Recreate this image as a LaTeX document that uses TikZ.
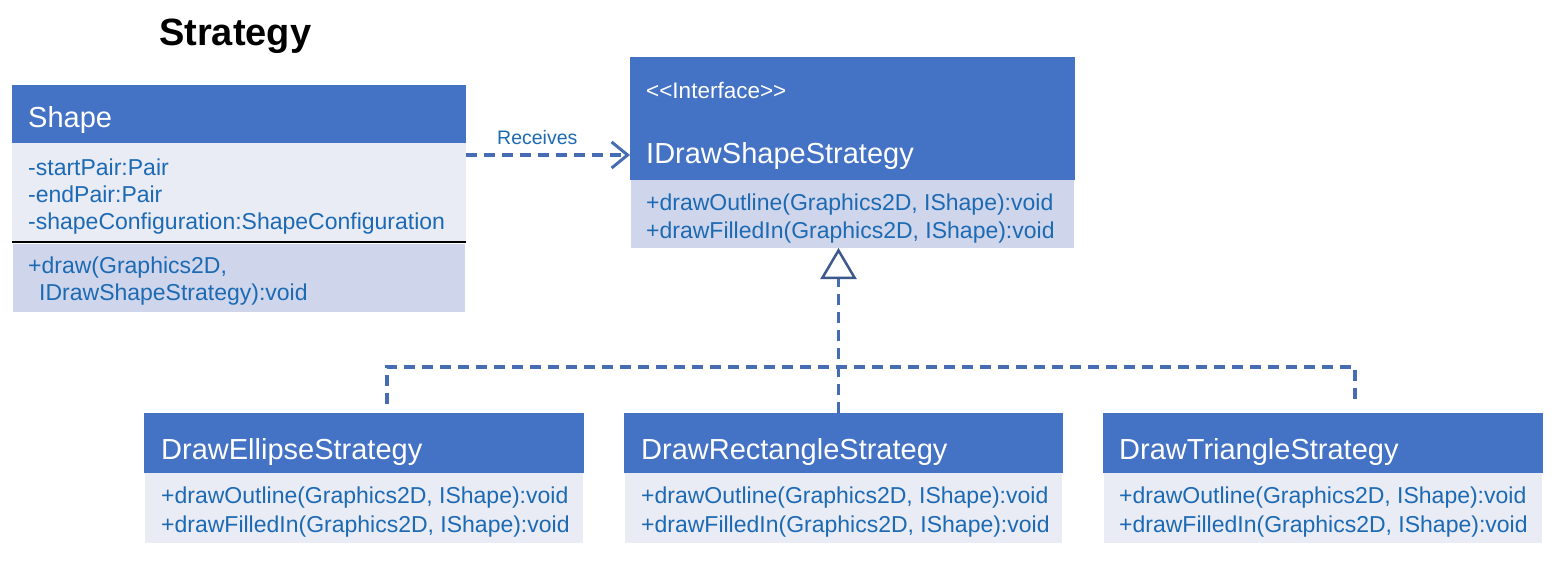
\documentclass[tikz,border=0pt]{standalone}
\usepackage{fontspec}
\setmainfont{Liberation Sans}
\usetikzlibrary{arrows.meta}
\definecolor{hdr}{RGB}{68,114,196}
\definecolor{lite}{RGB}{233,235,245}
\definecolor{mid}{RGB}{207,213,234}
\definecolor{txt}{RGB}{28,106,180}
\definecolor{ln}{RGB}{70,108,180}
\definecolor{tric}{RGB}{60,88,140}
\begin{document}
\begin{tikzpicture}[x=1pt,y=-1pt,
  box/.style={anchor=north west, inner sep=0pt, outer sep=0pt, draw=none},
  hbox/.style={box, fill=hdr},
  lbox/.style={box, fill=lite},
  mbox/.style={box, fill=mid},
  hname/.style={anchor=base west, inner sep=0pt, text=white, font=\fontsize{29}{34}\selectfont},
  stereo/.style={anchor=base west, inner sep=0pt, text=white, font=\fontsize{22.5}{26}\selectfont},
  body/.style={anchor=base west, inner sep=0pt, text=txt, font=\fontsize{23}{27}\selectfont},
  lbl/.style={anchor=base west, inner sep=0pt, text=txt, font=\fontsize{19.5}{24}\selectfont},
  dep/.style={draw=ln, line width=3.5pt, dash pattern=on 11pt off 7pt},
]
\useasboundingbox[fill=white] (0,0) rectangle (1556,570);

% title
\node[anchor=base west, inner sep=0pt, font=\fontsize{38}{44}\selectfont\bfseries] (title) at (159,45) {Strategy};

% Shape class
\node[hbox, minimum width=454pt, minimum height=58pt] (shapeH) at (12,85) {};
\node[lbox, minimum width=454pt, minimum height=99pt] (shapeA) at (12,143) {};
\node[mbox, minimum width=452pt, minimum height=68pt] (shapeM) at (13,244) {};
\draw[black, line width=2pt] (shapeA.south west) -- (shapeA.south east);
\node[hname] (shapeN) at (28,127) {Shape};
\node[body] (sa1) at (28,175) {-startPair:Pair};
\node[body] (sa2) at (28,202) {-endPair:Pair};
\node[body] (sa3) at (28,229) {-shapeConfiguration:ShapeConfiguration};
\node[body] (sm1) at (28,273) {+draw(Graphics2D,};
\node[body] (sm2) at (39,300) {IDrawShapeStrategy):void};

% Interface
\node[hbox, minimum width=445pt, minimum height=123pt] (ifaceH) at (630,57) {};
\node[mbox, minimum width=443pt, minimum height=68pt] (ifaceM) at (631,180) {};
\node[stereo] (ifS) at (646,98) {<{}<Interface>{}>};
\node[hname] (ifN) at (646,163) {IDrawShapeStrategy};
\node[body] (if1) at (646,210) {+drawOutline(Graphics2D, IShape):void};
\node[body] (if2) at (646,238) {+drawFilledIn(Graphics2D, IShape):void};

% Ellipse
\node[hbox, minimum width=440pt, minimum height=60pt] (ellH) at (144,413) {};
\node[lbox, minimum width=438pt, minimum height=70pt] (ellM) at (145,473) {};
\node[hname] (ellN) at (161,459) {DrawEllipseStrategy};
\node[body] (el1) at (161,503) {+drawOutline(Graphics2D, IShape):void};
\node[body] (el2) at (161,532) {+drawFilledIn(Graphics2D, IShape):void};

% Rectangle
\node[hbox, minimum width=439pt, minimum height=60pt] (rectH) at (624,413) {};
\node[lbox, minimum width=437pt, minimum height=70pt] (rectM) at (625,473) {};
\node[hname] (rectN) at (641,459) {DrawRectangleStrategy};
\node[body] (re1) at (641,503) {+drawOutline(Graphics2D, IShape):void};
\node[body] (re2) at (641,532) {+drawFilledIn(Graphics2D, IShape):void};

% Triangle
\node[hbox, minimum width=440pt, minimum height=60pt] (triH) at (1103,413) {};
\node[lbox, minimum width=438pt, minimum height=70pt] (triM) at (1104,473) {};
\node[hname] (triN) at (1119,459) {DrawTriangleStrategy};
\node[body] (tr1) at (1119,503) {+drawOutline(Graphics2D, IShape):void};
\node[body] (tr2) at (1119,532) {+drawFilledIn(Graphics2D, IShape):void};

% Receives dependency
\coordinate (rcv) at ([yshift=-12pt]shapeH.south east);
\draw[dep, -{Straight Barb[length=16pt, width=26pt, line width=3pt]}] (rcv) -- (rcv -| ifaceH.west);
\node[lbl] (rlab) at (497,144) {Receives};

% realization
\coordinate (mid) at ([xshift=-5pt]rectH.north);
\draw[dep, -{Triangle[open, length=31pt, width=36pt, line width=2.5pt, color=tric]}] (mid) -- (mid |- ifaceM.south);
\coordinate (bl) at (387,367);
\coordinate (br) at (1355,367);
\coordinate (el) at (387,404);
\coordinate (er) at (1355,404);
\draw[dep] (el) -- (bl) -- (br) -- (er);
\end{tikzpicture}
\end{document}
